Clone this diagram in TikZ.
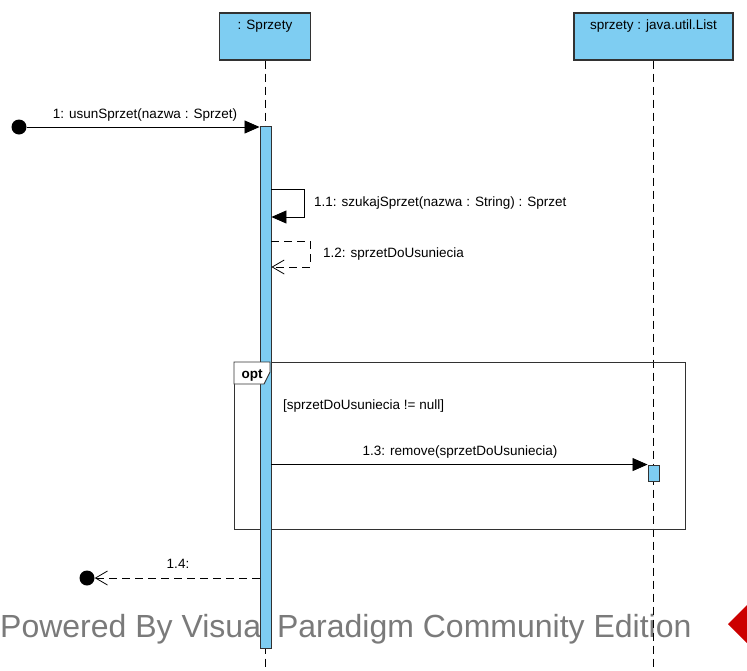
\documentclass[tikz,border=0pt]{standalone}
\usepackage{fontspec}
\setmainfont{Liberation Sans}
\usepackage{tikz}
\usetikzlibrary{arrows.meta, positioning, calc}
\definecolor{vpblue}{RGB}{126,205,242}
\definecolor{vpline}{RGB}{50,50,50}

\begin{document}
\begin{tikzpicture}[x=1pt, y=-1pt,
  lbl/.style={font=\fontsize{13.5}{16}\selectfont, inner sep=0pt},
  lifebox/.style={draw=vpline, fill=vpblue, line width=1.1pt, minimum height=47pt, inner sep=0pt},
  lifeline/.style={dash pattern=on 8pt off 5pt, line width=0.9pt},
  actbar/.style={draw=vpline, fill=vpblue, line width=0.9pt, minimum width=11pt, inner sep=0pt},
  msg/.style={line width=0.8pt, -{Triangle[length=15pt, width=13pt]}},
  reply/.style={line width=0.8pt, dash pattern=on 8pt off 5pt, -{Straight Barb[length=12pt, width=14pt]}},
  enddot/.style={circle, fill=black, inner sep=0pt, minimum size=15pt}]
\useasboundingbox (0,0) rectangle (747,670);
\clip (0,0) rectangle (747,670);
% Watermark and logo
\node[font=\fontsize{32}{36}\selectfont, text=black!52, anchor=base west, inner sep=0pt] (watermark) at (0,637) {Powered By Visual Paradigm Community Edition};
\fill[red!80!black] (728,624) -- (749,603) -- (770,624) -- (749,645) -- cycle;
% Lifelines
\foreach \nm/\x/\w/\txt in {sprzety/265/91/{: Sprzety}, lista/653.5/159/{sprzety : java.util.List}} {
  \node[lifebox, minimum width=\w pt] (\nm) at (\x,36.5) {};
  \node[lbl, anchor=base] (\nm-name) at (\x,29) {\txt};
  \draw[lifeline] (\nm.south) -- ++(0,620);
}
% Combined fragment
\draw[draw=vpline, line width=0.9pt] (234,362) rectangle (685,529);
\node[lbl, anchor=base west] (guard) at (283,409) {[sprzetDoUsuniecia != null]};
% Activations
\node[actbar, minimum height=522pt] (act1) at (265.5,387) {};
\node[actbar, minimum height=16pt] (act2) at (653.5,473) {};
% Fragment tab on top of the bar
\draw[draw=vpline, line width=0.9pt, fill=white] (234,362) -- (270,362) -- (270,372) -- (264,384) -- (234,384) -- cycle;
\node[font=\fontsize{13.5}{16}\selectfont\bfseries, anchor=base, inner sep=0pt] (optname) at (252,378) {opt};
% Messages
\node[enddot] (start) at (19,127) {};
\draw[msg] (start) -- (start -| act1.west);
\node[lbl, anchor=base] (m1) at (145,118) {1: usunSprzet(nazwa : Sprzet)};
\draw[msg] (act1.east |- 0,189) -- (304,189) -- (304,217) -- (act1.east |- 0,217);
\node[lbl, anchor=base west] (m11) at (314,206) {1.1: szukajSprzet(nazwa : String) : Sprzet};
\draw[reply] (act1.east |- 0,241) -- (310,241) -- (310,267) -- (act1.east |- 0,267);
\node[lbl, anchor=base west] (m12) at (323,257) {1.2: sprzetDoUsuniecia};
\draw[msg] (act1.east |- act2.north) -- (act2.north west);
\node[lbl, anchor=base] (m13) at (460,455) {1.3: remove(sprzetDoUsuniecia)};
\node[enddot] (end) at (87,578) {};
\draw[reply] (act1.west |- end) -- (end);
\node[lbl, anchor=base] (m14) at (178,568) {1.4:};
\end{tikzpicture}
\end{document}
